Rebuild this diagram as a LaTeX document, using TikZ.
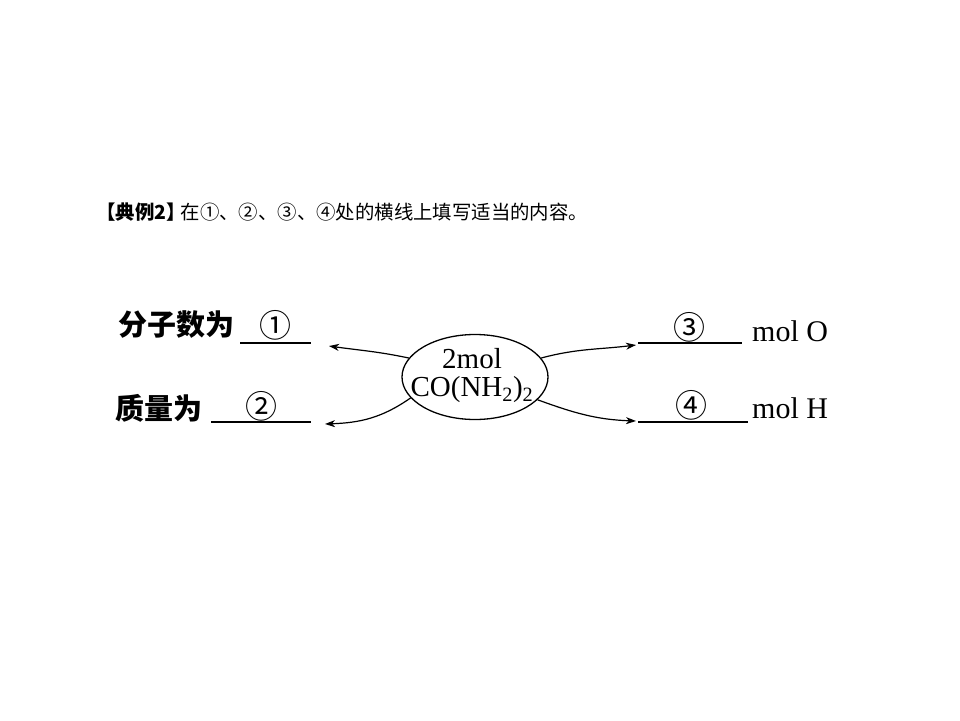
\documentclass[tikz,border=0pt]{standalone}
\usepackage{fontspec}
\setmainfont{Liberation Serif}
\newfontfamily\cjk{Noto Sans CJK SC}
\usetikzlibrary{shapes.geometric,arrows.meta}
\begin{document}
\begin{tikzpicture}[x=1pt,y=1pt,
  cn/.style={font=\cjk\fontsize{29}{30}\selectfont\bfseries, inner sep=0pt},
  circ/.style={font=\cjk\fontsize{32}{32}\selectfont, inner sep=0pt},
  lat/.style={font=\fontsize{30}{30}\selectfont, inner sep=0pt},
  blank/.style={line width=1.5pt},
  arr/.style={line width=1.2pt, -{Stealth[length=10pt,width=7pt,inset=3pt]}}]
\path[use as bounding box] (0,0) rectangle (960,-720);
\node[font=\cjk\fontsize{19.4}{20}\selectfont, anchor=west, inner sep=0pt] (title) at (96,-212)
  {{\bfseries 【典例2】}\hspace{-5pt}在①、②、③、④处的横线上填写适当的内容。};
% left
\node[cn, anchor=west] (l1) at (118,-325) {分子数为};
\node[circ] (c1) at (275,-325) {①};
\coordinate (b1s) at (240,-343); \coordinate (b1e) at (311,-343);
\draw[blank] (b1s) -- (b1e);
\node[cn, anchor=west] (l2) at (115,-408) {质量为};
\node[circ] (c2) at (261,-406) {②};
\coordinate (b2s) at (211,-422); \coordinate (b2e) at (311,-422);
\draw[blank] (b2s) -- (b2e);
% center
\node[ellipse, draw, line width=1.3pt, minimum width=146pt, minimum height=85pt, inner sep=0pt] (e) at (475,-377) {};
\node[align=center, inner sep=0pt, font=\fontsize{29}{28}\selectfont] (etxt) at (472,-376)
  {2mol\\CO(NH\textsubscript{2})\textsubscript{2}};
% right
\node[circ] (c3) at (689,-327) {③};
\coordinate (b3s) at (638,-343); \coordinate (b3e) at (742,-343);
\draw[blank] (b3s) -- (b3e);
\node[lat, anchor=west] (m3) at (752,-331) {mol O};
\node[circ] (c4) at (691,-405) {④};
\coordinate (b4s) at (638,-422); \coordinate (b4e) at (748,-422);
\draw[blank] (b4s) -- (b4e);
\node[lat, anchor=west] (m4) at (752,-408) {mol H};
% arrows
\coordinate (t1) at (329,-346);
\coordinate (t2) at (325,-424);
\coordinate (t3) at (636,-345);
\coordinate (t4) at (636,-421);
\draw[arr] (e.164) to[out=168, in=-8] (t1);
\draw[arr] (e.198) to[out=215, in=2] (t2);
\draw[arr] (e.16) to[out=15, in=187] (t3);
\draw[arr] (e.340) to[out=-20, in=178] (t4);
\end{tikzpicture}
\end{document}
